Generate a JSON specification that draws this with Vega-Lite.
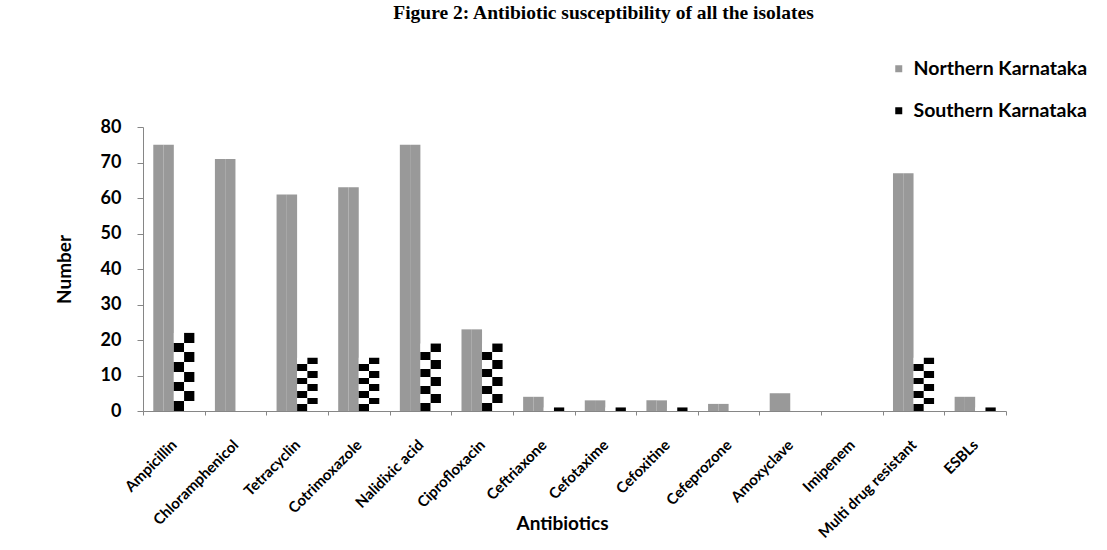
{
  "$schema": "https://vega.github.io/schema/vega-lite/v6.json",
  "width": 863,
  "height": 284,
  "autosize": {"type": "none"},
  "padding": {"left": 143, "top": 127, "right": 101, "bottom": 139},
  "background": "white",
  "config": {
    "view": {"stroke": null},
    "axisY": {
      "title": "Number",
      "titleFont": "Lato",
      "titleFontSize": 19,
      "titleFontWeight": "bold",
      "titleColor": "black",
      "titlePadding": 26,
      "labelFont": "Lato",
      "labelFontSize": 18,
      "labelFontWeight": "bold",
      "labelColor": "black",
      "labelPadding": 16,
      "tickSize": 6,
      "tickColor": "#868686",
      "domainColor": "#868686",
      "grid": false,
      "labelOverlap": false
    }
  },
  "title": {
    "text": "Figure 2: Antibiotic susceptibility of all the isolates",
    "font": "Liberation Serif",
    "fontSize": 19.5,
    "fontWeight": "bold",
    "color": "black",
    "anchor": "middle",
    "frame": "group",
    "dx": 29,
    "offset": 36
  },
  "data": {
    "values": [
      {"antibiotic": "Ampicillin", "northern": 75, "southern": 22},
      {"antibiotic": "Chloramphenicol", "northern": 71, "southern": 0},
      {"antibiotic": "Tetracyclin", "northern": 61, "southern": 15},
      {"antibiotic": "Cotrimoxazole", "northern": 63, "southern": 15},
      {"antibiotic": "Nalidixic acid", "northern": 75, "southern": 19},
      {"antibiotic": "Ciprofloxacin", "northern": 23, "southern": 19},
      {"antibiotic": "Ceftriaxone", "northern": 4, "southern": 1},
      {"antibiotic": "Cefotaxime", "northern": 3, "southern": 1},
      {"antibiotic": "Cefoxitine", "northern": 3, "southern": 1},
      {"antibiotic": "Cefeprozone", "northern": 2, "southern": 0},
      {"antibiotic": "Amoxyclave", "northern": 5, "southern": 0},
      {"antibiotic": "Imipenem", "northern": 0, "southern": 0},
      {"antibiotic": "Multi drug resistant", "northern": 67, "southern": 15},
      {"antibiotic": "ESBLs", "northern": 4, "southern": 1}
    ]
  },
  "encoding": {
    "x": {
      "field": "antibiotic",
      "type": "nominal",
      "sort": null,
      "scale": {"paddingInner": 0, "paddingOuter": 0},
      "axis": {
        "title": "Antibiotics",
        "titleFont": "Lato",
        "titleFontSize": 19,
        "titleFontWeight": "bold",
        "titleColor": "black",
        "titleX": 419,
        "titleY": 112,
        "titleBaseline": "middle",
        "labelAngle": -45,
        "labelAlign": "right",
        "labelBaseline": "middle",
        "labelFont": "Lato",
        "labelFontSize": 15,
        "labelFontWeight": "bold",
        "labelColor": "black",
        "labelPadding": 27,
        "labelLimit": 300,
        "tickBand": "extent",
        "tickSize": 4,
        "tickColor": "#868686",
        "domainColor": "#868686",
        "grid": false
      }
    }
  },
  "layer": [
    {
      "mark": {"type": "bar"},
      "encoding": {
        "xOffset": {"datum": "N1", "scale": {"domain": ["N1", "N2", "S1", "S2"], "paddingInner": 0, "paddingOuter": 1.52}},
        "y": {
          "field": "northern",
          "type": "quantitative",
          "scale": {"domain": [0, 80], "nice": false},
          "axis": {"title": "Number", "values": [0, 10, 20, 30, 40, 50, 60, 70, 80]}
        },
        "color": {
          "datum": "Northern Karnataka",
          "scale": {"domain": ["Northern Karnataka", "Southern Karnataka"], "range": ["#999999", "#000000"]},
          "legend": {
            "title": null,
            "orient": "none",
            "legendX": 746,
            "legendY": -68,
            "symbolType": "square",
            "symbolSize": 49,
            "symbolStrokeWidth": 0,
            "labelFont": "Lato",
            "labelFontSize": 19.5,
            "labelFontWeight": "bold",
            "labelColor": "black",
            "labelOffset": 5,
            "labelLimit": 300,
            "rowPadding": 21
          }
        }
      }
    },
    {
      "mark": {"type": "bar"},
      "encoding": {
        "xOffset": {"datum": "N2"},
        "y": {"field": "northern", "type": "quantitative", "axis": {"title": "Number", "values": [0, 10, 20, 30, 40, 50, 60, 70, 80]}},
        "color": {"datum": "Northern Karnataka"}
      }
    },
    {
      "mark": {
        "type": "bar",
        "fill": {
          "gradient": "linear", "x1": 0, "y1": 0, "x2": 0, "y2": 1,
          "stops": [
            {"offset": 0, "color": "#ffffff"}, {"offset": 0.125, "color": "#ffffff"},
            {"offset": 0.125, "color": "#000000"}, {"offset": 0.25, "color": "#000000"},
            {"offset": 0.25, "color": "#ffffff"}, {"offset": 0.375, "color": "#ffffff"},
            {"offset": 0.375, "color": "#000000"}, {"offset": 0.5, "color": "#000000"},
            {"offset": 0.5, "color": "#ffffff"}, {"offset": 0.625, "color": "#ffffff"},
            {"offset": 0.625, "color": "#000000"}, {"offset": 0.75, "color": "#000000"},
            {"offset": 0.75, "color": "#ffffff"}, {"offset": 0.875, "color": "#ffffff"},
            {"offset": 0.875, "color": "#000000"}, {"offset": 1, "color": "#000000"}
          ]
        }
      },
      "encoding": {
        "xOffset": {"datum": "S1"},
        "y": {"field": "southern", "type": "quantitative", "axis": {"title": "Number", "values": [0, 10, 20, 30, 40, 50, 60, 70, 80]}}
      }
    },
    {
      "mark": {
        "type": "bar",
        "fill": {
          "gradient": "linear", "x1": 0, "y1": 0, "x2": 0, "y2": 1,
          "stops": [
            {"offset": 0, "color": "#000000"}, {"offset": 0.125, "color": "#000000"},
            {"offset": 0.125, "color": "#ffffff"}, {"offset": 0.25, "color": "#ffffff"},
            {"offset": 0.25, "color": "#000000"}, {"offset": 0.375, "color": "#000000"},
            {"offset": 0.375, "color": "#ffffff"}, {"offset": 0.5, "color": "#ffffff"},
            {"offset": 0.5, "color": "#000000"}, {"offset": 0.625, "color": "#000000"},
            {"offset": 0.625, "color": "#ffffff"}, {"offset": 0.75, "color": "#ffffff"},
            {"offset": 0.75, "color": "#000000"}, {"offset": 0.875, "color": "#000000"},
            {"offset": 0.875, "color": "#ffffff"}, {"offset": 1, "color": "#ffffff"}
          ]
        }
      },
      "encoding": {
        "xOffset": {"datum": "S2"},
        "y": {"field": "southern", "type": "quantitative", "axis": {"title": "Number", "values": [0, 10, 20, 30, 40, 50, 60, 70, 80]}}
      }
    }
  ]
}
